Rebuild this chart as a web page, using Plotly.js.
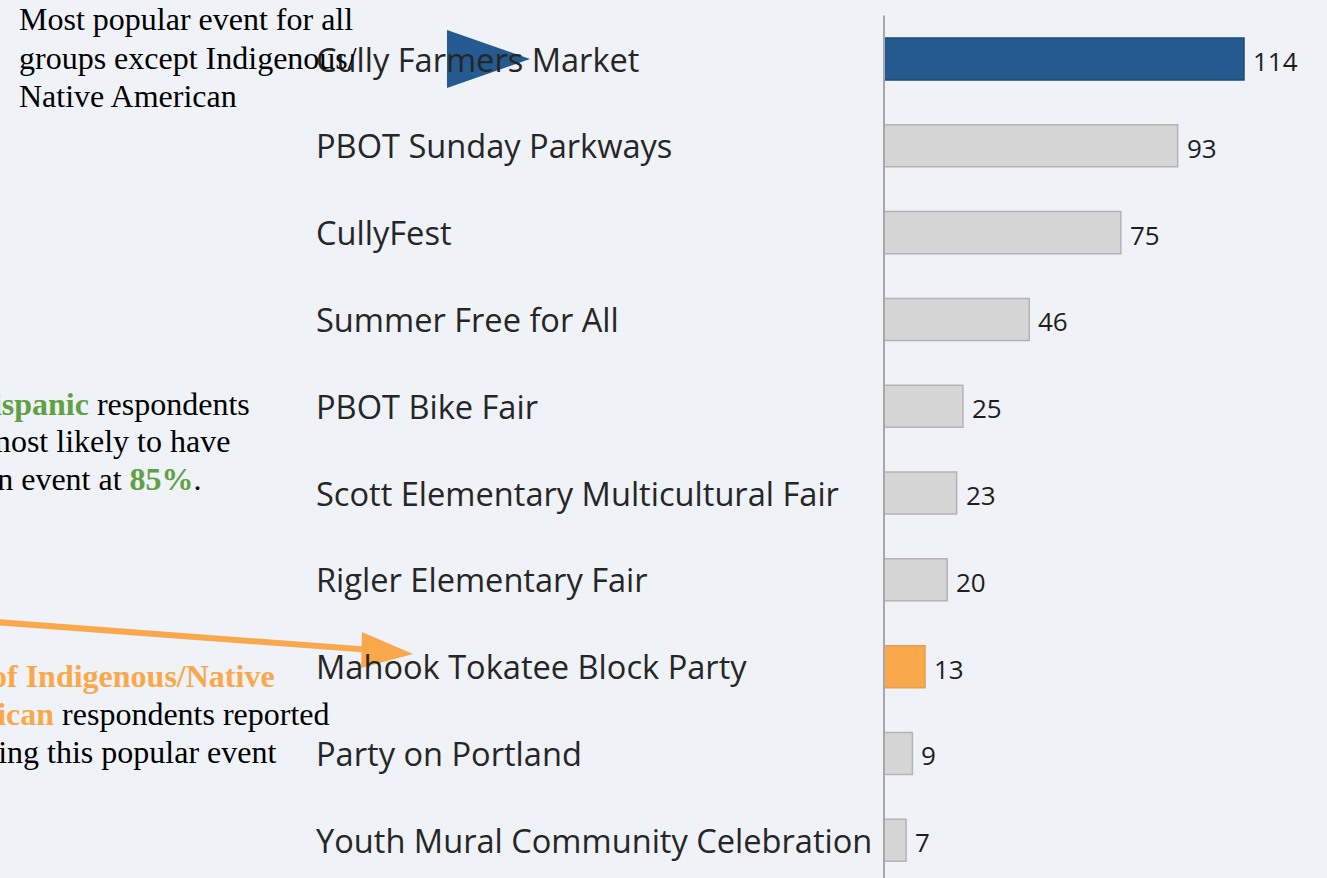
<!DOCTYPE html>
<html><head><meta charset="utf-8">
<script src="https://cdn.plot.ly/plotly-3.0.1.min.js"></script>
<style>html,body{margin:0;padding:0;background:#eff2f7;}#chart{width:1327px;height:878px;}</style>
</head><body><div id="chart"></div>
<script>
// ---- data ----
const categories = [
  "Cully Farmers Market",
  "PBOT Sunday Parkways",
  "CullyFest",
  "Summer Free for All",
  "PBOT Bike Fair",
  "Scott Elementary Multicultural Fair",
  "Rigler Elementary Fair",
  "Mahook Tokatee Block Party",
  "Party on Portland",
  "Youth Mural Community Celebration"
];
const values = [114, 93, 75, 46, 25, 23, 20, 13, 9, 7];
const highlightTop = "Cully Farmers Market";
const highlightNative = "Mahook Tokatee Block Party";

// ---- styles ----
const W = 1327, H = 878;
const BLUE = "#245a8f", ORANGE = "#f9a94b", GREY = "#d6d6d6", GREEN = "#62a044";
const px = x => x / W;
const py = y => 1 - y / H;

const fill = categories.map(c => c === highlightTop ? BLUE : (c === highlightNative ? ORANGE : GREY));
const edge = categories.map(c => c === highlightTop ? "#1e4c7a" : (c === highlightNative ? "#e8a050" : "#b4b4b4"));

const trace = {
  type: "bar", orientation: "h",
  x: values, y: categories,
  marker: {color: fill, line: {color: edge, width: 1.5}},
  hoverinfo: "none"
};

const labelFont = {family: "Open Sans, sans-serif", size: 32.6, color: "#262626"};
const valueFont = {family: "Open Sans, sans-serif", size: 26, color: "#1e1e1e"};
const serif = "Liberation Serif, Times New Roman, serif";

const annotations = [];
categories.forEach((c, i) => {
  annotations.push({xref: "paper", yref: "y", x: px(314), y: c, xanchor: "left", yanchor: "middle",
    text: c, showarrow: false, font: labelFont});
  annotations.push({xref: "x", yref: "y", x: values[i], y: c, xanchor: "left", yanchor: "middle",
    xshift: 7, yshift: -2, text: String(values[i]), showarrow: false, font: valueFont});
});

// side notes (each line separately)
const noteFont = {family: serif, size: 32, color: "#000"};
const notes = [
  {x: 17, y: 19, a: "left", t: "Most popular event for all"},
  {x: 17, y: 58, a: "left", t: "groups except Indigenous/"},
  {x: 17, y: 96, a: "left", t: "Native American"},
  {x: 252, y: 404, a: "right", t: "<b><span style='color:" + GREEN + "'>Hispanic</span></b> respondents"},
  {x: 232, y: 441, a: "right", t: "most likely to have"},
  {x: 204, y: 479, a: "right", t: "an event at <b><span style='color:" + GREEN + "'>85%</span></b>."},
  {x: 277, y: 676, a: "right", t: "<b><span style='color:" + ORANGE + "'>of Indigenous/Native</span></b>"},
  {x: 332, y: 714, a: "right", t: "<b><span style='color:" + ORANGE + "'>American</span></b> respondents reported"},
  {x: 278, y: 752, a: "right", t: "attending this popular event"}
];
notes.forEach(n => annotations.push({xref: "paper", yref: "paper", x: px(n.x), y: py(n.y),
  xanchor: n.a, yanchor: "middle", text: n.t, showarrow: false, font: noteFont}));

const shapes = [
  // blue pointer
  {type: "path", xref: "paper", yref: "paper", line: {width: 0}, fillcolor: BLUE,
   path: `M ${px(447)} ${py(30)} L ${px(447)} ${py(88)} L ${px(530)} ${py(59)} Z`},
  // orange arrow shaft
  {type: "line", xref: "paper", yref: "paper", x0: px(-5), y0: py(622), x1: px(372), y1: py(650),
   line: {color: ORANGE, width: 6}},
  // orange arrow head
  {type: "path", xref: "paper", yref: "paper", line: {width: 0}, fillcolor: ORANGE,
   path: `M ${px(362)} ${py(632)} L ${px(361)} ${py(668)} L ${px(413)} ${py(654)} Z`},
  // axis line
  {type: "line", xref: "x", yref: "y", x0: 0, x1: 0, y0: -0.5, y1: 9.6,
   line: {color: "#a8a8a8", width: 2}}
];

const pxPerUnit = (1244 - 884) / 114;
const layout = {
  width: W, height: H,
  margin: {l: 0, r: 0, t: 0, b: 0},
  paper_bgcolor: "#eff2f7", plot_bgcolor: "rgba(0,0,0,0)",
  showlegend: false,
  bargap: 0.516,
  xaxis: {range: [-884 / pxPerUnit, (W - 884) / pxPerUnit], visible: false, fixedrange: true},
  yaxis: {type: "category", range: [9.435, -0.68], visible: false, fixedrange: true},
  annotations: annotations,
  shapes: shapes
};

Plotly.newPlot("chart", [trace], layout, {displayModeBar: false, staticPlot: true});
</script>
</body></html>
